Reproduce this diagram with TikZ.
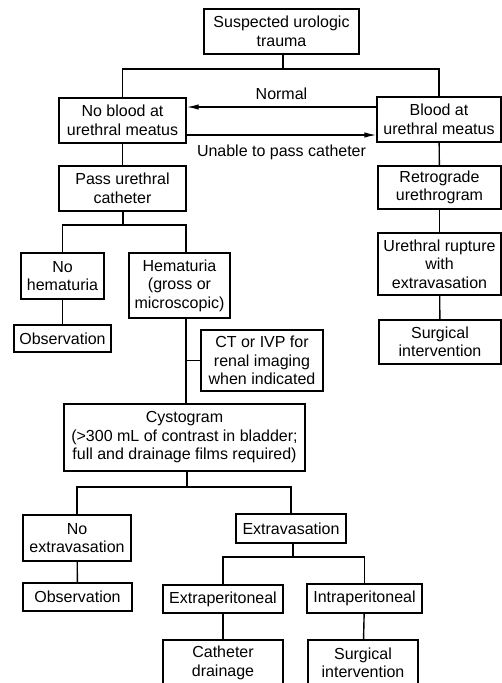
\documentclass[tikz,border=0pt]{standalone}
\usepackage{fontspec}
\setmainfont{Liberation Sans}
\usetikzlibrary{arrows.meta}
\tikzset{
  box/.style={draw, line width=1.4pt, rectangle, inner sep=0pt, align=center,
    font=\fontsize{16pt}{18.5pt}\selectfont},
  conn/.style={line width=1.4pt},
  arr/.style={line width=1.4pt, -{Latex[length=12pt,width=5.5pt]}},
  lbl/.style={font=\fontsize{16pt}{18.5pt}\selectfont, inner sep=0pt}
}
\begin{document}
\begin{tikzpicture}[x=1pt,y=-1pt]
\useasboundingbox (0,0) rectangle (502,683);
\clip (0,0) rectangle (502,683);
\fill[white] (0,0) rectangle (502,683);
% nodes
\node[box, minimum width=155pt, minimum height=45pt] (top) at (281.5,31.5) {Suspected urologic\\trauma};
\node[box, minimum width=127pt, minimum height=45pt] (noblood) at (122.5,120.5) {No blood at\\urethral meatus};
\node[box, minimum width=124pt, minimum height=45pt] (blood) at (439,119.5) {Blood at\\urethral meatus};
\node[box, minimum width=127pt, minimum height=45pt] (pass) at (122.5,188.5) {Pass urethral\\catheter};
\node[box, minimum width=123pt, minimum height=43pt] (retro) at (439.5,187.5) {Retrograde\\urethrogram};
\node[box, minimum width=83pt, minimum height=46pt] (nohem) at (62.5,276) {No\\hematuria};
\node[box, minimum width=101pt, minimum height=65pt] (hem) at (179.5,285.5) {Hematuria\\(gross or\\microscopic)};
\node[box, minimum width=97pt, minimum height=27pt] (obs1) at (62.5,338.5) {Observation};
\node[box, minimum width=122pt, minimum height=61pt] (ct) at (262,360.5) {CT or IVP for\\renal imaging\\when indicated};
\node[box, minimum width=123pt, minimum height=62pt] (rupt) at (439.5,264) {Urethral rupture\\with\\extravasation};
\node[box, minimum width=122pt, minimum height=44pt] (surg1) at (440,342) {Surgical\\intervention};
\node[box, minimum width=241pt, minimum height=67pt] (cysto) at (184.5,437.5) {Cystogram\\(>300 mL of contrast in bladder;\\full and drainage films required)};
\node[box, minimum width=108pt, minimum height=46pt] (noext) at (77,538) {No\\extravasation};
\node[box, minimum width=110pt, minimum height=29pt] (ext) at (291,528.5) {Extravasation};
\node[box, minimum width=109pt, minimum height=28pt] (obs2) at (77.5,597) {Observation};
\node[box, minimum width=120pt, minimum height=28pt] (extrap) at (223,599) {Extraperitoneal};
\node[box, minimum width=115pt, minimum height=29pt] (intrap) at (364.5,598.5) {Intraperitoneal};
\node[box, minimum width=120pt, minimum height=46pt] (cath) at (223,663) {Catheter\\drainage};
\node[box, minimum width=110pt, minimum height=46pt] (surg2) at (363,663) {Surgical\\intervention};
% junction coordinates
\coordinate (j1) at (283,69);
\coordinate (j2) at (123,225);
\coordinate (hx) at (186,0);
\coordinate (j3) at (187,487);
\coordinate (j4) at (293,557);
\coordinate (ny) at (0,107);
\coordinate (uy) at (0,135);
% connectors
\draw[conn] (top.south -| j1) -- (j1);
\draw[conn] (noblood.north) |- (j1) -| (blood.north);
\draw[arr] (blood.west |- ny) -- node[lbl, above=7pt] (lnormal) {Normal} (noblood.east |- ny);
\draw[arr] (noblood.east |- uy) -- node[lbl, below=9pt] (lunable) {Unable to pass catheter} (blood.west |- uy);
\draw[conn] (noblood) -- (pass);
\draw[conn] (blood) -- (retro);
\draw[conn] (retro) -- (rupt);
\draw[conn] (rupt) -- (surg1);
\draw[conn] (pass.south -| j2) -- (j2);
\draw[conn] (nohem.north) |- (j2) -| (hem.north -| hx);
\draw[conn] (nohem) -- (obs1);
\draw[conn] (hem.south -| hx) -- (cysto.north -| hx);
\draw[conn] (ct.west) -- (ct.west -| hx);
\draw[conn] (cysto.south -| j3) -- (j3);
\draw[conn] (noext.north) |- (j3) -| (ext.north);
\draw[conn] (noext) -- (obs2);
\draw[conn] (ext.south -| j4) -- (j4);
\draw[conn] (extrap.north) |- (j4) -| (intrap.north);
\draw[conn] (extrap) -- (cath);
\draw[conn] (intrap) -- (surg2);
\end{tikzpicture}
\end{document}
